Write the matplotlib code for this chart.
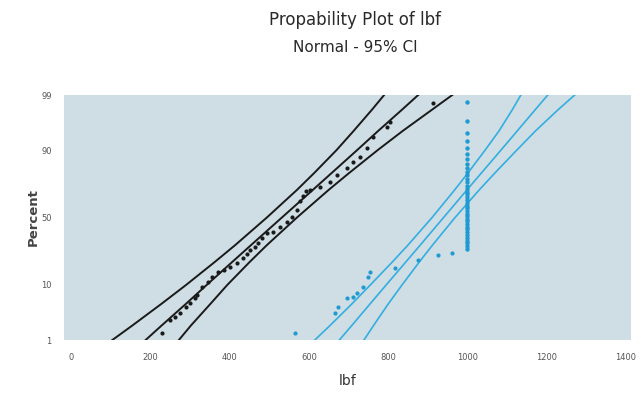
import numpy as np
import matplotlib
matplotlib.use('Agg')
import matplotlib.pyplot as plt
from statistics import NormalDist

# percent levels where the fitted lines and CI bands were read
levels = [1, 2, 5, 10, 20, 30, 50, 70, 80, 90, 95, 98, 99]

# black series (first sample)
black_fit = [188, 228, 289, 342, 407, 454, 532, 610, 657, 722, 775, 836, 876]
black_lo = [104, 154, 227, 290, 363, 414, 494, 570, 613, 670, 713, 760, 790]
black_hi = [272, 302, 351, 394, 451, 494, 570, 650, 701, 774, 837, 912, 962]
black_x = [230, 250, 262, 275, 290, 300, 312, 318, 330, 345, 356, 371, 385, 401,
           419, 434, 445, 452, 465, 472, 482, 494, 510, 527, 545, 558, 570, 578,
           585, 592, 603, 628, 653, 671, 696, 711, 729, 747, 762, 797, 805, 913]
black_pct = [1.4, 2.6, 3.0, 3.5, 4.5, 5.2, 6.2, 7.1, 9.3, 11.0, 12.9, 15.0, 16.0, 17.4,
             19.4, 22.0, 24.5, 26.9, 29.0, 31.4, 34.9, 38.4, 39.0, 42.9, 46.6, 50.4, 55.7, 62.0,
             66.0, 69.0, 70.0, 71.9, 75.0, 79.0, 82.6, 85.4, 87.5, 90.7, 93.7, 95.7, 96.5, 98.5]

# blue series (second sample, many at 1000 lbf)
blue_fit = [677, 708, 754, 795, 845, 881, 940, 999, 1035, 1085, 1126, 1172, 1203]
blue_lo = [615, 653, 708, 755, 811, 850, 911, 968, 1001, 1045, 1080, 1114, 1135]
blue_hi = [739, 763, 800, 835, 879, 912, 969, 1030, 1069, 1125, 1172, 1230, 1271]
blue_x = [565, 666, 674, 696, 711, 721, 737, 749, 754, 817, 875, 926, 961]
blue_pct = [1.4, 3.5, 4.5, 6.3, 6.6, 7.6, 9.3, 12.9, 15.0, 16.9, 21.0, 23.8, 25.0]
blue_top_pct = [27.2, 29.2, 31.2, 33.1, 35.1, 37.1, 39.1, 41.1, 43.1, 45.0, 47.0, 49.0,
                51.0, 53.0, 55.0, 56.9, 58.9, 60.9, 62.9, 64.9, 66.9, 68.9, 70.8, 72.8,
                74.8, 76.8, 78.8, 80.8, 82.7, 84.7, 86.7, 88.7, 90.7, 92.7, 94.6, 96.6, 98.6]
blue_top_x = [1000] * len(blue_top_pct)

yticks = [1, 10, 50, 90, 99]
xticks = [0, 200, 400, 600, 800, 1000, 1200, 1400]

nd = NormalDist()
_ppf = np.vectorize(lambda v: nd.inv_cdf(v / 100.0), otypes=[float])
_cdf = np.vectorize(lambda v: nd.cdf(v) * 100.0, otypes=[float])


def fwd(p):
    p = np.clip(np.asarray(p, dtype=float), 1e-6, 100 - 1e-6)
    return _ppf(p)


def inv(z):
    return _cdf(np.asarray(z, dtype=float))


narrow = ['Liberation Sans Narrow', 'DejaVu Sans']

fig = plt.figure(figsize=(6.43, 3.98), dpi=100)
ax = fig.add_axes([64 / 643, 1 - 340 / 398, 567 / 643, 245 / 398])
ax.set_facecolor('#cfdde4')
ax.set_yscale('function', functions=(fwd, inv))

black = '#1a1a1a'
blue = '#33aee0'
for xs in (black_lo, black_fit, black_hi):
    ax.plot(xs, levels, color=black, lw=1.4)
for xs in (blue_lo, blue_fit, blue_hi):
    ax.plot(xs, levels, color=blue, lw=1.2)

ax.scatter(black_x, black_pct, s=9, color=black, zorder=3, linewidths=0)
ax.scatter(blue_x, blue_pct, s=9, color='#1f9ad2', zorder=3, linewidths=0)
ax.scatter(blue_top_x, blue_top_pct, s=10, color='#1f9ad2', zorder=3, linewidths=0)

ax.set_xlim(-18, 1413)
ax.set_ylim(1, 99)
ax.set_xticks(xticks)
ax.set_xticklabels([str(t) for t in xticks])
ax.set_yticks(yticks)
ax.set_yticklabels([str(t) for t in yticks])
ax.yaxis.set_minor_locator(matplotlib.ticker.NullLocator())
ax.tick_params(length=0, labelsize=6, labelcolor='#555555')
ax.tick_params(axis='x', pad=9)
ax.tick_params(axis='y', pad=9)
for lab in ax.get_xticklabels() + ax.get_yticklabels():
    lab.set_family(narrow)
for s in ax.spines.values():
    s.set_visible(False)

ax.set_xlabel('lbf', fontsize=10, color='#333333', family=narrow, labelpad=9)
fig.text(33 / 643, 1 - 217 / 398, 'Percent', rotation=90, fontsize=9.5, fontweight='bold',
         color='#444444', ha='center', va='center')

fig.text(355 / 643, 1 - 20 / 398, 'Propability Plot of lbf', ha='center', va='center',
         fontsize=12, color='#2a2a2a', family=narrow)
fig.text(355 / 643, 1 - 47 / 398, 'Normal - 95% CI', ha='center', va='center',
         fontsize=11, color='#2a2a2a', family=narrow)

fig.savefig('out.png', dpi=100)
